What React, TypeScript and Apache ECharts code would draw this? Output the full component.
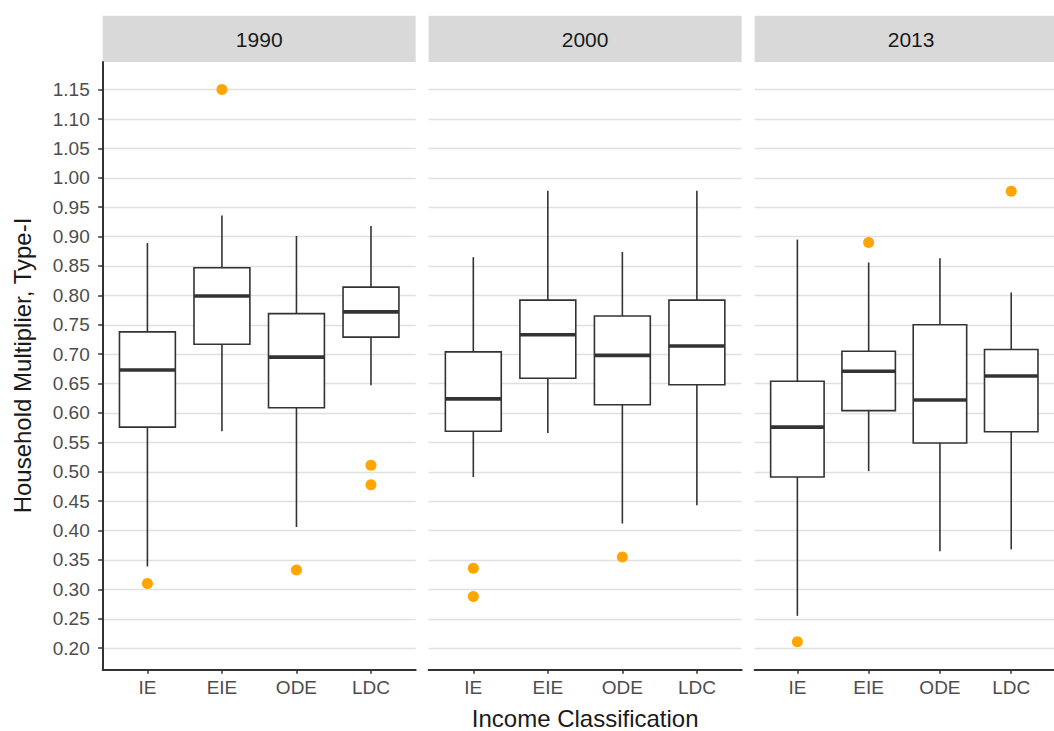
import React, { useEffect, useRef } from "react";
import * as echarts from "echarts";

// Income classes on the x axis and the three survey years (facets)
const categories = ["IE", "EIE", "ODE", "LDC"];
const years = ["1990", "2000", "2013"];

// Box statistics per class: [lower whisker, Q1, median, Q3, upper whisker]
const stats1990 = [
  [0.339, 0.576, 0.673, 0.738, 0.889],
  [0.569, 0.717, 0.799, 0.847, 0.936],
  [0.406, 0.609, 0.695, 0.769, 0.901],
  [0.647, 0.729, 0.772, 0.814, 0.918],
];
const stats2000 = [
  [0.491, 0.569, 0.624, 0.704, 0.865],
  [0.566, 0.659, 0.733, 0.792, 0.978],
  [0.412, 0.614, 0.698, 0.765, 0.874],
  [0.443, 0.648, 0.714, 0.792, 0.978],
];
const stats2013 = [
  [0.255, 0.491, 0.576, 0.654, 0.895],
  [0.501, 0.604, 0.671, 0.705, 0.856],
  [0.365, 0.549, 0.622, 0.75, 0.863],
  [0.368, 0.568, 0.663, 0.708, 0.805],
];

// Outliers: [class index, value]
const outliers1990 = [
  [0, 0.31],
  [1, 1.15],
  [2, 0.333],
  [3, 0.511],
  [3, 0.478],
];
const outliers2000 = [
  [0, 0.336],
  [0, 0.288],
  [2, 0.355],
];
const outliers2013 = [
  [0, 0.211],
  [1, 0.89],
  [3, 0.977],
];

const yTicks = [
  0.2, 0.25, 0.3, 0.35, 0.4, 0.45, 0.5, 0.55, 0.6, 0.65, 0.7, 0.75, 0.8, 0.85,
  0.9, 0.95, 1.0, 1.05, 1.1, 1.15,
];

const FONT = "Liberation Sans";
const INK = "#333333";

export default function App() {
  const ref = useRef<HTMLDivElement>(null);

  useEffect(() => {
    document.body.style.margin = "0";
    if (!ref.current) return;
    const chart = echarts.init(ref.current, null, { renderer: "svg" });

    const allStats = [stats1990, stats2000, stats2013];
    const allOutliers = [outliers1990, outliers2000, outliers2013];

    // y range: data extent expanded by 5% on each side
    const values: number[] = [];
    allStats.forEach((s) => s.forEach((r) => values.push(...r)));
    allOutliers.forEach((o) => o.forEach((p) => values.push(p[1])));
    const dMin = Math.min(...values);
    const dMax = Math.max(...values);
    const pad = (dMax - dMin) * 0.05;
    const yMin = dMin - pad;
    const yMax = dMax + pad;

    // panel layout
    const panelLefts = [102.7, 428.6, 754.6];
    const panelWidth = 313;
    const panelTop = 62;
    const panelBottom = 61.7;
    const stripTop = 15.7;

    const grids = panelLefts.map((left) => ({
      left,
      width: panelWidth,
      top: panelTop,
      bottom: panelBottom,
      containLabel: false,
    }));

    const catIdx = categories.map((_, i) => i);

    const xAxes = panelLefts.map((_, i) => ({
      type: "value",
      gridIndex: i,
      min: -0.6,
      max: categories.length - 1 + 0.6,
      axisLine: { show: true, onZero: false, lineStyle: { color: INK, width: 2 } },
      axisTick: {
        show: true,
        customValues: catIdx,
        length: 4.5,
        lineStyle: { color: INK, width: 1.5 },
      },
      axisLabel: {
        show: true,
        customValues: catIdx,
        formatter: (v: number) => categories[Math.round(v)] ?? "",
        color: "#4d4d4d",
        fontFamily: FONT,
        fontSize: 19,
        margin: 9,
      },
      splitLine: { show: false },
    }));

    const yAxes = panelLefts.map((_, i) => ({
      type: "value",
      gridIndex: i,
      min: yMin,
      max: yMax,
      axisLine: { show: i === 0, onZero: false, lineStyle: { color: INK, width: 2 } },
      axisTick: {
        show: i === 0,
        customValues: yTicks,
        length: 4.5,
        lineStyle: { color: INK, width: 1.5 },
      },
      axisLabel: {
        show: i === 0,
        customValues: yTicks,
        formatter: (v: number) => v.toFixed(2),
        color: "#4d4d4d",
        fontFamily: FONT,
        fontSize: 19,
        margin: 13,
      },
      splitLine: { show: true, lineStyle: { color: "#e0e0e0", width: 1.4 } },
    }));

    const series: any[] = [];
    allStats.forEach((stats, g) => {
      series.push({
        type: "custom",
        xAxisIndex: g,
        yAxisIndex: g,
        data: stats.map((s, i) => [i, ...s]),
        encode: { x: 0, y: [1, 2, 3, 4, 5] },
        renderItem: (_params: any, api: any) => {
          const x = api.value(0);
          const lo = api.coord([x, api.value(1)]);
          const q1 = api.coord([x, api.value(2)]);
          const med = api.coord([x, api.value(3)]);
          const q3 = api.coord([x, api.value(4)]);
          const hi = api.coord([x, api.value(5)]);
          const bw = api.size([1, 0])[0] * 0.75;
          const thin = { stroke: INK, lineWidth: 1.6 };
          return {
            type: "group",
            children: [
              { type: "line", shape: { x1: lo[0], y1: lo[1], x2: q1[0], y2: q1[1] }, style: thin },
              { type: "line", shape: { x1: q3[0], y1: q3[1], x2: hi[0], y2: hi[1] }, style: thin },
              {
                type: "rect",
                shape: { x: q3[0] - bw / 2, y: q3[1], width: bw, height: q1[1] - q3[1] },
                style: { fill: "#ffffff", stroke: INK, lineWidth: 1.6 },
              },
              {
                type: "line",
                shape: { x1: med[0] - bw / 2, y1: med[1], x2: med[0] + bw / 2, y2: med[1] },
                style: { stroke: INK, lineWidth: 3.6 },
              },
            ],
          };
        },
      });
      series.push({
        type: "scatter",
        xAxisIndex: g,
        yAxisIndex: g,
        data: allOutliers[g],
        symbol: "circle",
        symbolSize: 11,
        itemStyle: { color: "#FFA500", opacity: 1 },
        z: 5,
      });
    });

    // facet strips and axis titles
    const graphic: any[] = [];
    panelLefts.forEach((left, i) => {
      graphic.push({
        type: "rect",
        shape: { x: left, y: stripTop, width: panelWidth, height: panelTop - stripTop },
        style: { fill: "#d9d9d9" },
        silent: true,
      });
      graphic.push({
        type: "text",
        x: left + panelWidth / 2,
        y: (stripTop + panelTop) / 2 + 1,
        style: {
          text: years[i],
          fontFamily: FONT,
          fontSize: 21,
          fill: "#1a1a1a",
          align: "center",
          verticalAlign: "middle",
        },
        silent: true,
      });
    });
    const plotCenterX = (panelLefts[0] + panelLefts[2] + panelWidth) / 2;
    graphic.push({
      type: "text",
      x: plotCenterX,
      y: 718,
      style: {
        text: "Income Classification",
        fontFamily: FONT,
        fontSize: 24,
        fill: "#1a1a1a",
        align: "center",
        verticalAlign: "middle",
      },
      silent: true,
    });
    graphic.push({
      type: "text",
      x: 22.5,
      y: 365.5,
      rotation: Math.PI / 2,
      style: {
        text: "Household Multiplier, Type-I",
        fontFamily: FONT,
        fontSize: 24,
        fill: "#1a1a1a",
        align: "center",
        verticalAlign: "middle",
      },
      silent: true,
    });

    chart.setOption({
      animation: false,
      backgroundColor: "#ffffff",
      grid: grids,
      xAxis: xAxes,
      yAxis: yAxes,
      series,
      graphic,
    });

    return () => chart.dispose();
  }, []);

  return <div ref={ref} style={{ width: 1054, height: 731 }} />;
}
